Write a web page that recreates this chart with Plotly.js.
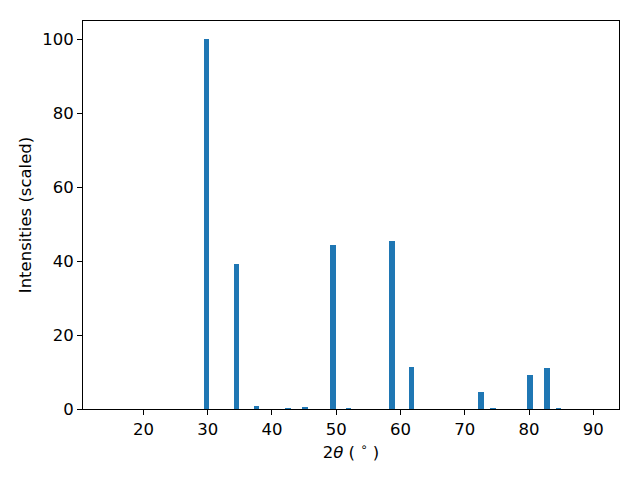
<!DOCTYPE html>
<html>
<head>
<meta charset="utf-8">
<script src="https://cdn.plot.ly/plotly-3.0.1.min.js"></script>
<style>html,body{margin:0;padding:0;background:#fff;}#chart{width:640px;height:480px;}</style>
</head>
<body>
<div id="chart"></div>
<script>
const twoTheta = [29.8, 34.5, 37.6, 42.5, 45.2, 49.5, 51.9, 58.7, 61.7, 72.5, 74.4, 80.2, 82.8, 84.6];
const intensity = [100, 39.2, 0.8, 0.3, 0.5, 44.4, 0.3, 45.5, 11.5, 4.5, 0.3, 9.3, 11.0, 0.3];
const xTicks = [20, 30, 40, 50, 60, 70, 80, 90];
const yTicks = [0, 20, 40, 60, 80, 100];

const font = {family: 'DejaVu Sans', size: 16.5, color: '#000'};
Plotly.newPlot('chart', [{
  type: 'bar',
  x: twoTheta,
  y: intensity,
  width: 0.9,
  marker: {color: '#1f77b4', line: {width: 0}},
  hoverinfo: 'skip'
}], {
  width: 640, height: 480,
  margin: {l: 83, r: 21, t: 21, b: 71, pad: 0},
  paper_bgcolor: '#fff', plot_bgcolor: '#fff',
  font: font,
  showlegend: false,
  bargap: 0,
  xaxis: {
    range: [10.6, 94.0],
    tickvals: xTicks,
    ticktext: xTicks.map(String),
    ticks: 'outside', ticklen: 5, tickwidth: 1, tickcolor: '#000',
    showline: true, linecolor: '#000', linewidth: 1, mirror: true,
    showgrid: false, zeroline: false,
    tickfont: font,
    title: {text: '2<i>θ</i> ( <sup>∘</sup> )', font: font, standoff: 8}
  },
  yaxis: {
    range: [0, 105],
    tickvals: yTicks,
    ticktext: yTicks.map(String),
    ticks: 'outside', ticklen: 5, tickwidth: 1, tickcolor: '#000',
    showline: true, linecolor: '#000', linewidth: 1, mirror: true,
    showgrid: false, zeroline: false,
    tickfont: font,
    title: {text: 'Intensities (scaled)', font: font, standoff: 6}
  }
}, {staticPlot: true, displayModeBar: false});
</script>
</body>
</html>
